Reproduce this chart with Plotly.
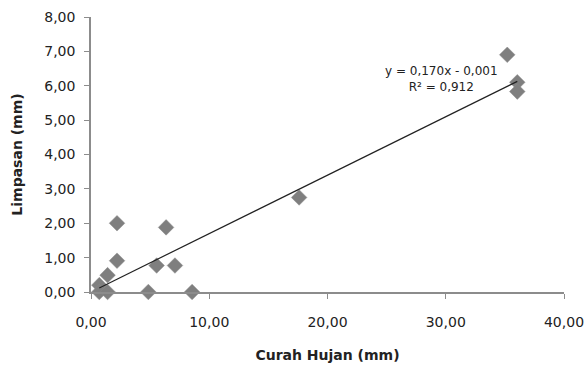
import numpy as np
import plotly.graph_objects as go

curah_hujan = [0.7, 0.7, 1.4, 1.4, 2.2, 2.2, 4.85, 5.55, 6.35, 7.1, 8.55, 17.6, 35.2, 36.05, 36.05]
limpasan = [0.2, 0.0, 0.49, 0.0, 2.0, 0.91, 0.0, 0.77, 1.88, 0.77, 0.0, 2.75, 6.9, 6.1, 5.83]

slope = 0.170
intercept = -0.001
r2_text = "0,912"

x_ticks = [0, 10, 20, 30, 40]
x_ticktext = ["0,00", "10,00", "20,00", "30,00", "40,00"]
y_ticks = [0, 1, 2, 3, 4, 5, 6, 7, 8]
y_ticktext = ["0,00", "1,00", "2,00", "3,00", "4,00", "5,00", "6,00", "7,00", "8,00"]

xl = np.array([min(curah_hujan), max(curah_hujan)])
yl = slope * xl + intercept

font = "DejaVu Sans, Verdana, sans-serif"

fig = go.Figure()
fig.add_trace(go.Scatter(
    x=curah_hujan, y=limpasan, mode="markers",
    marker=dict(symbol="diamond", size=12, color="#7f7f7f",
                line=dict(color="#8c8c8c", width=0.5)),
    cliponaxis=False, showlegend=False))
fig.add_trace(go.Scatter(
    x=xl, y=yl, mode="lines",
    line=dict(color="#222222", width=1.2),
    showlegend=False))

fig.add_annotation(
    x=29.6, y=6.2, xref="x", yref="y",
    text="y = 0,170x - 0,001<br>R² = " + r2_text,
    showarrow=False, align="center",
    font=dict(family=font, size=12, color="#222222"))

fig.update_layout(
    width=586, height=369,
    margin=dict(l=91, r=22, t=17, b=77),
    plot_bgcolor="white", paper_bgcolor="white",
    font=dict(family=font, size=14, color="#222222"),
    xaxis=dict(range=[0, 40], tickvals=x_ticks, ticktext=x_ticktext,
               showgrid=False, zeroline=False, showline=True,
               linecolor="#8c8c8c", linewidth=1.5, automargin=False,
               ticks="outside", ticklen=5, tickcolor="#8c8c8c",
               ticklabelstandoff=11,
               title=dict(text="<b>Curah Hujan (mm)</b>", standoff=22,
                          font=dict(size=14))),
    yaxis=dict(range=[0, 8], tickvals=y_ticks, ticktext=y_ticktext,
               showgrid=False, zeroline=False, showline=True,
               linecolor="#8c8c8c", linewidth=1.5, automargin=False,
               ticks="outside", ticklen=5, tickcolor="#8c8c8c",
               ticklabelstandoff=6,
               title=dict(text="<b>Limpasan (mm)</b>", standoff=18,
                          font=dict(size=14))),
)

fig.write_html("out.html")
